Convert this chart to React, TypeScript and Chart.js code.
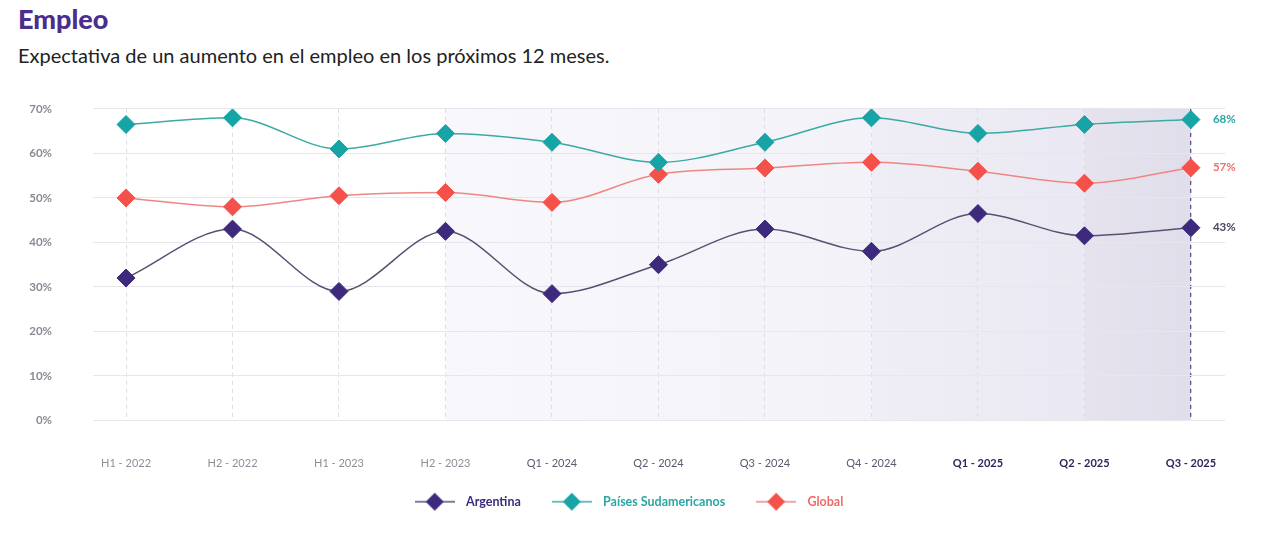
import { useEffect, useRef } from "react";
import { Chart, registerables } from "chart.js";

Chart.register(...registerables);

const periods = [
  "H1 - 2022",
  "H2 - 2022",
  "H1 - 2023",
  "H2 - 2023",
  "Q1 - 2024",
  "Q2 - 2024",
  "Q3 - 2024",
  "Q4 - 2024",
  "Q1 - 2025",
  "Q2 - 2025",
  "Q3 - 2025",
];
const argentina = [32, 43, 29, 42.5, 28.5, 35, 43, 38, 46.5, 41.5, 43.3];
const sudamerica = [66.5, 68, 61, 64.5, 62.5, 58, 62.5, 68, 64.5, 66.5, 67.6];
const global = [50, 48, 50.5, 51.2, 49, 55.3, 56.7, 58, 56, 53.3, 56.8];
const endLabels = ["43%", "68%", "57%"];
const seriesNames = ["Argentina", "Países Sudamericanos", "Global"];
// shaded period bands (index ranges)
const bands: [number, number][] = [
  [3, 7],
  [7, 9],
  [9, 10],
];

const FONT = "Lato, 'Open Sans', sans-serif";
const PURPLE = "#3d2a7c";
const PURPLE_LINE = "#5a4f72";
const TEAL = "#17a4a6";
const TEAL_LINE = "#3aaaa4";
const CORAL = "#f5514b";
const CORAL_LINE = "#ef8683";
const labelColors = ["#4a4560", "#2aa7a3", "#f0706a"];
const legendText = ["#3d2a7c", "#2aa7a3", "#ef6b66"];

function legendIcon(line: string, fill: string) {
  const c = document.createElement("canvas");
  c.width = 40;
  c.height = 20;
  const g = c.getContext("2d")!;
  g.strokeStyle = line;
  g.lineWidth = 1.5;
  g.beginPath();
  g.moveTo(0, 10);
  g.lineTo(40, 10);
  g.stroke();
  g.fillStyle = fill;
  g.beginPath();
  g.moveTo(20, 1);
  g.lineTo(29, 10);
  g.lineTo(20, 19);
  g.lineTo(11, 10);
  g.closePath();
  g.fill();
  return c;
}

const shadePlugin = {
  id: "shade",
  beforeDraw(chart: any) {
    const { ctx, chartArea, scales } = chart;
    const x = scales.x;
    const stops = [
      ["#f8f7fb", "#f3f2f8"],
      ["#efedf5", "#eae8f2"],
      ["#e6e3ef", "#e1deeb"],
    ];
    ctx.save();
    bands.forEach(([a, b], i) => {
      const x0 = x.getPixelForValue(a);
      const x1 = x.getPixelForValue(b);
      const grad = ctx.createLinearGradient(x0, 0, x1, 0);
      grad.addColorStop(0, stops[i][0]);
      grad.addColorStop(1, stops[i][1]);
      ctx.fillStyle = grad;
      ctx.fillRect(x0, chartArea.top, x1 - x0, chartArea.bottom - chartArea.top);
    });
    ctx.restore();
  },
};

const endLabelPlugin = {
  id: "endLabels",
  afterDatasetsDraw(chart: any) {
    const { ctx } = chart;
    ctx.save();
    ctx.font = `bold 11.5px ${FONT}`;
    ctx.textBaseline = "middle";
    ctx.textAlign = "left";
    chart.data.datasets.forEach((_: any, i: number) => {
      const meta = chart.getDatasetMeta(i);
      const pt = meta.data[meta.data.length - 1];
      ctx.fillStyle = labelColors[i];
      ctx.fillText(endLabels[i], pt.x + 22, pt.y);
    });
    ctx.restore();
  },
};

export default function App() {
  const canvasRef = useRef<HTMLCanvasElement>(null);
  const chartRef = useRef<Chart | null>(null);

  useEffect(() => {
    if (!canvasRef.current) return;
    if (chartRef.current) chartRef.current.destroy();
    const ctx = canvasRef.current.getContext("2d");
    if (!ctx) return;

    const toPoints = (vals: number[]) => vals.map((v, i) => ({ x: i, y: v }));
    const icons = [
      legendIcon(PURPLE_LINE, PURPLE),
      legendIcon(TEAL_LINE, TEAL),
      legendIcon(CORAL_LINE, CORAL),
    ];

    const mk = (label: string, vals: number[], line: string, fill: string) => ({
      label,
      data: toPoints(vals),
      borderColor: line,
      backgroundColor: fill,
      borderWidth: 1.5,
      pointStyle: "rectRot" as const,
      pointRadius: 9,
      pointHoverRadius: 9,
      pointBackgroundColor: fill,
      pointBorderColor: fill,
      pointBorderWidth: 1,
      cubicInterpolationMode: "monotone" as const,
    });

    chartRef.current = new Chart(ctx, {
      type: "line",
      data: {
        datasets: [
          mk(seriesNames[0], argentina, PURPLE_LINE, PURPLE),
          mk(seriesNames[1], sudamerica, TEAL_LINE, TEAL),
          mk(seriesNames[2], global, CORAL_LINE, CORAL),
        ],
      },
      options: {
        animation: false,
        responsive: true,
        maintainAspectRatio: false,
        layout: { padding: { top: 22, right: 55, bottom: 40, left: 28 } },
        plugins: {
          tooltip: { enabled: false },
          legend: {
            position: "bottom",
            labels: {
              usePointStyle: true,
              pointStyleWidth: 50,
              padding: 26,
              font: { family: FONT, size: 12.5, weight: "bold" },
              generateLabels: () =>
                seriesNames.map((name, i) => ({
                  text: name,
                  pointStyle: icons[i],
                  fontColor: legendText[i],
                  fillStyle: "transparent",
                  strokeStyle: "transparent",
                  lineWidth: 0,
                  hidden: false,
                  datasetIndex: i,
                })),
            },
          },
        },
        scales: {
          x: {
            type: "linear",
            min: -0.31,
            max: 10.32,
            afterBuildTicks: (scale: any) => {
              scale.ticks = periods.map((_, i) => ({ value: i }));
            },
            afterFit: (scale: any) => {
              scale.height = 49;
            },
            border: { display: false, dash: [4, 4] },
            grid: {
              drawTicks: false,
              color: (c: any) => (c.index === periods.length - 1 ? "#5d5187" : "#dcdce4"),
              lineWidth: (c: any) => (c.index === periods.length - 1 ? 1.3 : 1),
            },
            ticks: {
              padding: 36,
              autoSkip: false,
              maxRotation: 0,
              callback: (v: any) => periods[v] ?? "",
              color: (c: any) => (c.index < 4 ? "#8f8f9a" : c.index < 8 ? "#5e5a70" : "#2f2558"),
              font: (c: any) => ({
                family: FONT,
                size: 11,
                weight: c.index >= 8 ? "bold" : "normal",
              }),
            },
          },
          y: {
            min: 0,
            max: 70,
            afterFit: (scale: any) => {
              scale.width = 65;
            },
            border: { display: false },
            grid: { drawTicks: false, color: "#e6e6ec" },
            ticks: {
              stepSize: 10,
              padding: 41,
              color: "#8a8a95",
              font: { family: FONT, size: 11.5, weight: "bold" },
              callback: (v: any) => `${v}%`,
            },
          },
        },
      },
      plugins: [shadePlugin, endLabelPlugin],
    } as any);

    return () => {
      chartRef.current?.destroy();
      chartRef.current = null;
    };
  }, []);

  return (
    <div
      style={{
        position: "absolute",
        left: 0,
        top: 0,
        width: 1280,
        height: 558,
        background: "#fff",
        fontFamily: FONT,
      }}
    >
      <div
        style={{
          position: "absolute",
          left: 18,
          top: 3,
          fontSize: 27,
          fontWeight: 900,
          color: "#4b2e8c",
          lineHeight: "32px",
        }}
      >
        Empleo
      </div>
      <div
        style={{
          position: "absolute",
          left: 18,
          top: 43,
          fontSize: 20,
          color: "#222",
          lineHeight: "24px",
        }}
      >
        Expectativa de un aumento en el empleo en los próximos 12 meses.
      </div>
      <div style={{ position: "absolute", left: 0, top: 61, width: 1280, height: 497 }}>
        <canvas ref={canvasRef} />
      </div>
    </div>
  );
}
